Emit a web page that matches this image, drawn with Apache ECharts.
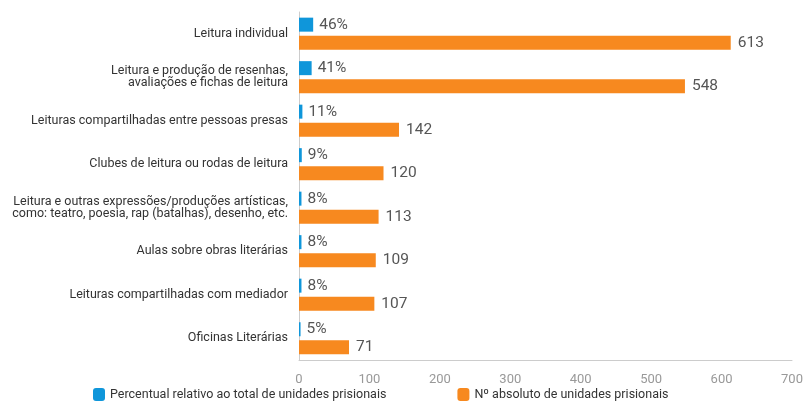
<!DOCTYPE html>
<html><head><meta charset="utf-8">
<script src="https://cdn.jsdelivr.net/npm/echarts@6/dist/echarts.min.js"></script>
<style>html,body{margin:0;padding:0;background:#fff}#c{width:806px;height:410px}</style>
</head><body><div id="c"></div>
<script>
const categories = [
  "Leitura individual",
  "Leitura e produção de resenhas,\navaliações e fichas de leitura",
  "Leituras compartilhadas entre pessoas presas",
  "Clubes de leitura ou rodas de leitura",
  "Leitura e outras expressões/produções artísticas,\ncomo: teatro, poesia, rap (batalhas), desenho, etc.",
  "Aulas sobre obras literárias",
  "Leituras compartilhadas com mediador",
  "Oficinas Literárias"
];
const percentValues = [46, 41, 11, 9, 8, 8, 8, 5];
const absoluteValues = [613, 548, 142, 120, 113, 109, 107, 71];
const seriesNames = ["Percentual relativo ao total de unidades prisionais", "Nº absoluto de unidades prisionais"];

const chart = echarts.init(document.getElementById('c'));
chart.setOption({
  animation: false,
  textStyle: { fontFamily: 'Roboto' },
  grid: { left: 299, right: 14, top: 12, bottom: 50, containLabel: false },
  legend: {
    left: 88, bottom: 4, itemWidth: 12, itemHeight: 13, itemGap: 71,
    textStyle: { fontSize: 12.5, color: '#333', fontFamily: 'Roboto' },
    data: seriesNames
  },
  xAxis: [
    { type: 'value', min: 0, max: 700, interval: 100,
      axisLine: { show: true, lineStyle: { color: '#ccc' } },
      axisTick: { show: false }, splitLine: { show: false },
      axisLabel: { color: '#999', fontSize: 13, margin: 13 } },
    { type: 'value', min: 0, max: 1600, show: false, splitLine: { show: false } }
  ],
  yAxis: {
    type: 'category', data: categories, inverse: true,
    axisLine: { show: true, lineStyle: { color: '#ccc' } },
    axisTick: { show: false },
    axisLabel: { color: '#333', fontSize: 12.5, margin: 11, lineHeight: 12, align: 'right' }
  },
  series: [
    { name: seriesNames[0], type: 'bar', xAxisIndex: 1, data: percentValues,
      barWidth: 14, barGap: '30%', itemStyle: { color: '#0F96DA' },
      label: { show: true, position: 'right', distance: 6, formatter: '{c}%', color: '#555', fontSize: 15.5 } },
    { name: seriesNames[1], type: 'bar', xAxisIndex: 0, data: absoluteValues,
      barWidth: 14, barGap: '30%', itemStyle: { color: '#F7891F' },
      label: { show: true, position: 'right', distance: 7, color: '#555', fontSize: 15.5 } }
  ]
});
</script></body></html>
